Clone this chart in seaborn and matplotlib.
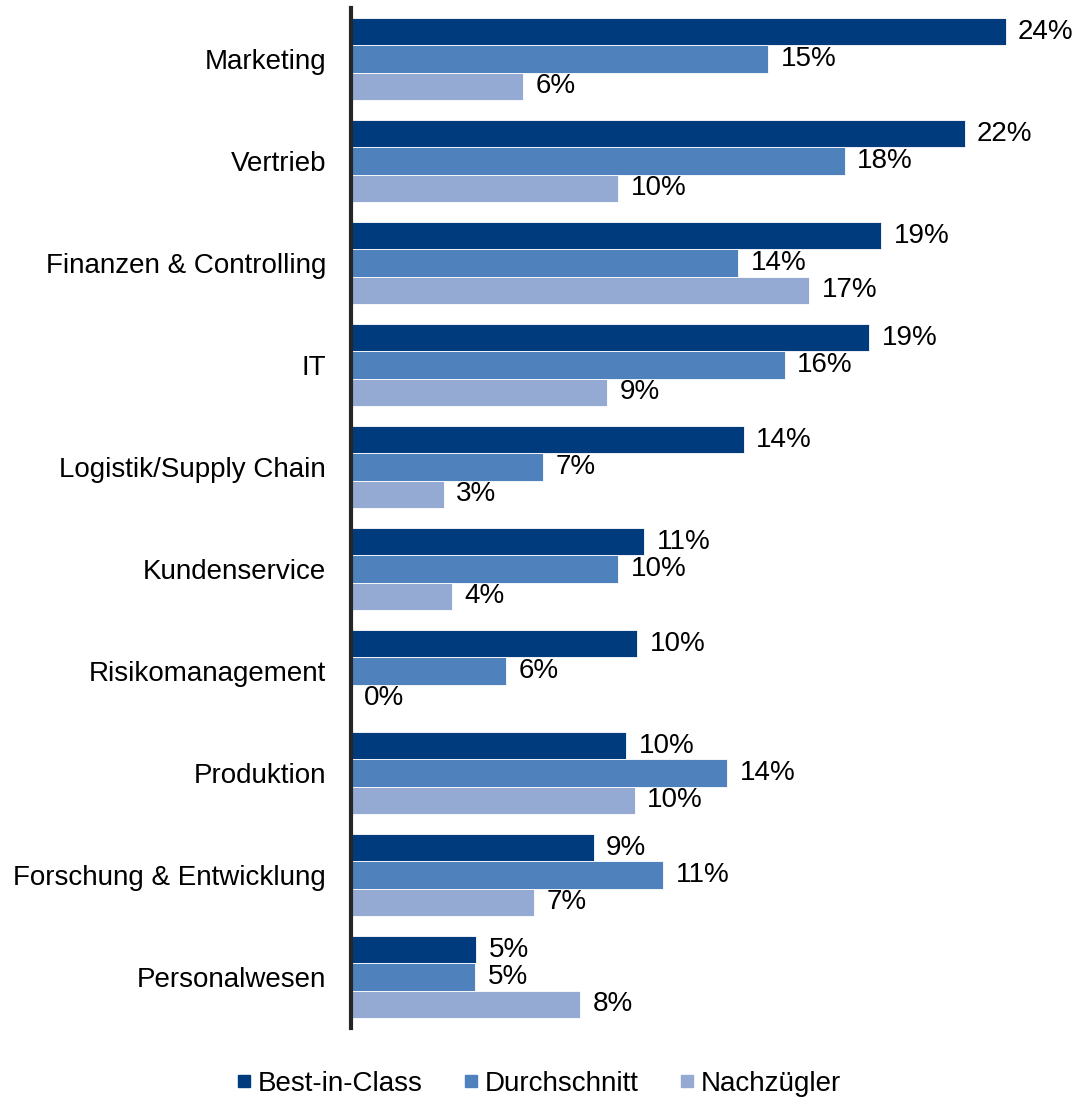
import pandas as pd
import matplotlib
matplotlib.use("Agg")
import matplotlib.pyplot as plt
import seaborn as sns
from matplotlib.lines import Line2D

# ==========================
# DATA
# ==========================
bereiche = ["Marketing", "Vertrieb", "Finanzen & Controlling", "IT",
            "Logistik/Supply Chain", "Kundenservice", "Risikomanagement",
            "Produktion", "Forschung & Entwicklung", "Personalwesen"]
gruppen = ["Best-in-Class", "Durchschnitt", "Nachzügler"]

best_in_class = [24.0, 22.5, 19.45, 19.0, 14.4, 10.75, 10.5, 10.1, 8.9, 4.6]
durchschnitt = [15.3, 18.1, 14.2, 15.9, 7.05, 9.8, 5.7, 13.8, 11.45, 4.55]
nachzuegler = [6.3, 9.8, 16.8, 9.4, 3.4, 3.7, 0.0, 10.4, 6.7, 8.4]

farben = ["#003C7D", "#4F81BD", "#95AAD2"]

df = pd.DataFrame({
    "Bereich": bereiche * 3,
    "Gruppe": [g for g in gruppen for _ in bereiche],
    "Wert": best_in_class + durchschnitt + nachzuegler,
})

# ==========================
# PLOT
# ==========================
sns.set_style("white")
plt.rcParams["font.family"] = ["Liberation Sans", "DejaVu Sans"]

fig = plt.figure(figsize=(10.78, 11.02), dpi=100)
ax = fig.add_axes([0.3256, 0.0672, 0.635, 0.9255])

sns.barplot(data=df, y="Bereich", x="Wert", hue="Gruppe", order=bereiche,
            hue_order=gruppen, palette=farben, saturation=1, orient="h",
            width=0.8, edgecolor="white", linewidth=0.6, legend=False, ax=ax)

for cont in ax.containers:
    ax.bar_label(cont, labels=[f"{round(b.get_width()):.0f}%" for b in cont],
                 padding=9, fontsize=20, color="black")

ax.set_xlim(0, 25.1)
ax.set_ylim(9.5, -0.5)
ax.set_xlabel("")
ax.set_ylabel("")
ax.xaxis.set_visible(False)
for s in ["top", "right", "bottom"]:
    ax.spines[s].set_visible(False)
ax.spines["left"].set_color("#262626")
ax.spines["left"].set_linewidth(3)
ax.tick_params(axis="y", length=0, pad=18, labelsize=20, labelcolor="black")

handles = [Line2D([], [], marker="s", linestyle="", markersize=8,
                  markerfacecolor=c, markeredgecolor=c) for c in farben]
fig.legend(handles, gruppen, loc="lower center", ncol=3,
           bbox_to_anchor=(0.5, -0.018), frameon=False, fontsize=20,
           handlelength=0.5, handletextpad=0.25, columnspacing=1.5,
           labelcolor="black")

fig.savefig("out.png", dpi=100)
